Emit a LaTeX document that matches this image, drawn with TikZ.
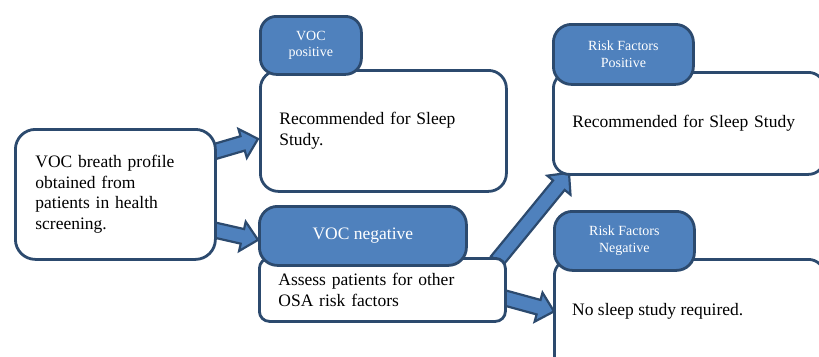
\documentclass[tikz,border=0pt]{standalone}
\usepackage{fontspec}
\setmainfont{Liberation Serif}
\usetikzlibrary{calc}
\definecolor{bordc}{HTML}{2C4A6E}
\definecolor{tabfill}{HTML}{4F81BD}
\tikzset{
  mainfont/.style={font=\fontsize{17.5}{20.5}\selectfont},
  bigbox/.style={draw=bordc, line width=2.8pt, fill=white, rectangle, anchor=north west, align=left, inner xsep=19pt, mainfont, text=black},
  tabbox/.style={draw=bordc, line width=2.8pt, fill=tabfill, rectangle, anchor=north west, align=center, text=white, rounded corners=16pt, inner sep=0pt},
  blockarrow/.style={draw=bordc, fill=tabfill, line width=2.2pt, line join=miter}
}
\newcommand\blkarrow[2]{%
  \coordinate (ba-s) at #1;
  \coordinate (ba-e) at #2;
  \coordinate (ba-h) at ($(ba-e)!16pt!(ba-s)$);
  \draw[blockarrow] ($(ba-s)!7.5pt!90:(ba-e)$) -- ($(ba-h)!7.5pt!-90:(ba-s)$) -- ($(ba-h)!15pt!-90:(ba-s)$) -- (ba-e) -- ($(ba-h)!15pt!90:(ba-s)$) -- ($(ba-h)!7.5pt!90:(ba-s)$) -- ($(ba-s)!7.5pt!-90:(ba-e)$) -- cycle;
}
\begin{document}
\begin{tikzpicture}[x=1pt,y=-1pt]
\useasboundingbox (0,0) rectangle (819,356);
\clip (0,0) rectangle (819,356);
% node geometry (invisible placeholders for arrows first)
\path (14,128) node[bigbox, draw=none, fill=none, minimum width=198pt, minimum height=130pt, text width=160pt, rounded corners=20pt] (src) {};
\path (259,69) node[bigbox, draw=none, fill=none, minimum width=246pt, minimum height=121pt] (box1) {};
\path (258,257) node[bigbox, draw=none, fill=none, minimum width=246pt, minimum height=63pt] (box2) {};
\path (552,71) node[bigbox, draw=none, fill=none, minimum width=271pt, minimum height=102pt] (box3) {};
\path (553,258) node[bigbox, draw=none, fill=none, minimum width=270pt, minimum height=112pt] (box4) {};
\path (258,205) node[tabbox, draw=none, fill=none, minimum width=207pt, minimum height=59pt] (tab2) {};
% arrows
\blkarrow{($(src.east)+(-3,-42)$)}{($(box1.west)+(-1,8)$)}
\blkarrow{($(src.east)+(-3,35)$)}{($(tab2.west)+(0,4)$)}
\blkarrow{($(box2.north east)+(-10,4)$)}{($(box3.south west)+(17,-3)$)}
\blkarrow{($(box2.east)+(-4,7.5)$)}{($(box4.west)+(1,-4)$)}
% boxes
\node[bigbox, minimum width=198pt, minimum height=130pt, text width=160pt, rounded corners=20pt, inner xsep=20pt] (src2) at (14,128) {VOC breath profile\\obtained from\\patients in health\\screening.};
\node[bigbox, minimum width=246pt, minimum height=121pt, text width=208pt, rounded corners=18pt] (box1b) at (259,69) {Recommended for Sleep\\Study.};
\node[bigbox, minimum width=246pt, minimum height=63pt, text width=208pt, rounded corners=10pt, inner xsep=18pt] (box2b) at (258,257) {Assess patients for other\\OSA risk factors};
\node[bigbox, minimum width=271pt, minimum height=102pt, text width=233pt, rounded corners=16pt] (box3b) at (552,71) {Recommended for Sleep Study};
\node[bigbox, minimum width=270pt, minimum height=112pt, text width=232pt, rounded corners=16pt, text depth=56pt, text height=0pt] (box4b) at (553,258) {};
\node[mainfont, anchor=base west, text=black, inner sep=0pt] (t4) at (572,315) {No sleep study required.};
% tabs
\node[tabbox, minimum width=101pt, minimum height=58pt, font=\fontsize{14}{16.5}\selectfont] (tab1) at (259,15) {VOC\\positive};
\node[tabbox, minimum width=207pt, minimum height=59pt, rounded corners=18pt, font=\fontsize{17.5}{20}\selectfont] (tab2b) at (258,205) {VOC negative};
\node[tabbox, minimum width=140pt, minimum height=60pt, rounded corners=18pt, font=\fontsize{14}{16.5}\selectfont] (tab3) at (552,23) {Risk Factors\\Positive};
\node[tabbox, minimum width=140pt, minimum height=59pt, rounded corners=18pt, font=\fontsize{14}{16.5}\selectfont] (tab4) at (553,210) {Risk Factors\\Negative};
\end{tikzpicture}
\end{document}
